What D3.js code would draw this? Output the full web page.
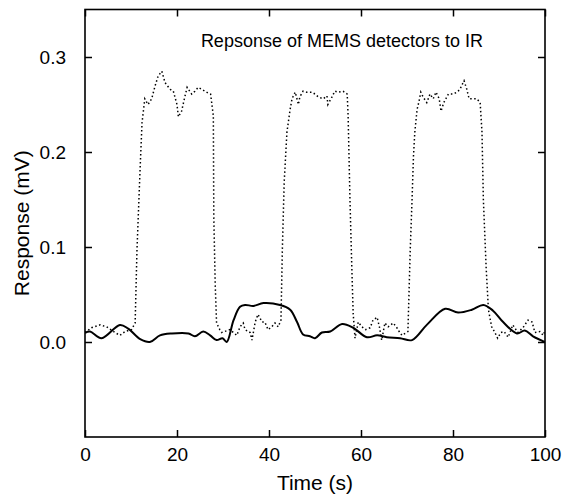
<!DOCTYPE html>
<html>
<head>
<meta charset="utf-8">
<script src="https://cdn.jsdelivr.net/npm/d3@7"></script>
<style>
  body { margin: 0; background: #fff; }
  svg { font-family: 'Liberation Sans', Arial, sans-serif; }
</style>
</head>
<body>
<div id="chart"><svg width="562" height="497"></svg></div>
<script>
// data: dotted trace (IR detector)
const irTime = [0, 1.4, 3.3, 4.7, 6.5, 7.6, 8.7, 10.1, 10.9, 11.3, 12.0, 12.4, 13.0, 13.7, 14.5, 15.2, 15.9, 16.7, 17.4, 18.5,
  19.2, 20.0, 20.3, 21.0, 21.7, 22.2, 23.2, 23.9, 24.6, 25.4, 26.1, 26.8, 27.3, 27.9, 28.0, 28.3, 28.6, 29.3, 29.7, 31.5,
  33.0, 33.7, 34.4, 34.8, 35.9, 36.3, 37.0, 37.6, 38.5, 39.1, 39.8, 40.6, 41.3, 42.0, 42.6, 42.9, 43.3, 43.9, 44.6, 45.0,
  45.7, 46.4, 46.7, 47.4, 48.2, 49.3, 50.0, 50.7, 51.8, 52.6, 52.8, 53.7, 54.3, 55.0, 56.1, 57.0, 57.2, 57.6, 58.0, 58.3,
  58.7, 59.4, 60.2, 61.0, 62.0, 62.6, 63.5, 64.0, 64.5, 65.2, 65.9, 67.0, 67.8, 68.3, 68.9, 70.2, 70.7, 71.1, 71.4, 71.7,
  72.2, 72.6, 73.0, 73.5, 74.3, 75.0, 75.7, 76.3, 77.0, 77.4, 78.0, 79.0, 80.0, 80.9, 81.5, 82.4, 83.0, 83.5, 84.6, 85.2,
  85.9, 86.3, 86.6, 87.2, 87.7, 88.4, 89.1, 89.7, 90.4, 91.1, 92.0, 93.0, 94.1, 95.2, 96.3, 97.2, 97.8, 98.9, 99.6, 100];
const irResp = [0.010, 0.015, 0.018, 0.016, 0.010, 0.007, 0.011, 0.013, 0.020, 0.097, 0.185, 0.231, 0.256, 0.250, 0.256, 0.269, 0.280, 0.285, 0.273, 0.266,
  0.264, 0.250, 0.237, 0.243, 0.258, 0.268, 0.261, 0.264, 0.268, 0.266, 0.264, 0.262, 0.261, 0.238, 0.132, 0.062, 0.020, 0.013, 0.010, 0.013,
  0.007, 0.016, 0.020, 0.013, 0.010, 0.002, 0.021, 0.029, 0.021, 0.021, 0.013, 0.016, 0.020, 0.016, 0.023, 0.097, 0.168, 0.221, 0.245, 0.256,
  0.263, 0.250, 0.258, 0.264, 0.263, 0.263, 0.261, 0.258, 0.256, 0.259, 0.250, 0.258, 0.264, 0.263, 0.264, 0.261, 0.238, 0.150, 0.079, 0.030,
  0.004, 0.021, 0.016, 0.013, 0.015, 0.023, 0.026, 0.016, 0.002, 0.020, 0.016, 0.020, 0.015, 0.011, 0.007, 0.011, 0.097, 0.150, 0.195, 0.221,
  0.245, 0.253, 0.263, 0.258, 0.252, 0.261, 0.256, 0.263, 0.256, 0.243, 0.252, 0.261, 0.261, 0.263, 0.266, 0.275, 0.266, 0.256, 0.256, 0.256,
  0.252, 0.221, 0.150, 0.079, 0.034, 0.016, 0.010, 0.004, 0.010, 0.011, 0.005, 0.018, 0.010, 0.015, 0.023, 0.021, 0.010, 0.011, 0.007, 0.012];

// data: solid trace (reference detector)
const refTime = [0, 1.1, 3.6, 7.6, 9.4, 12, 14.1, 16.3, 18.9, 22.5, 23.9, 25.7, 27.2, 28.6, 29.9, 30.8, 32.3, 33.7, 34.8, 36.6,
  38.8, 42.4, 44.6, 46.1, 47.4, 48.9, 50, 51.5, 53.3, 55.9, 58.3, 61.3, 63.5, 65.6, 68.5, 71.1, 74.3, 78.3, 81.1, 84.1,
  86.6, 88.7, 90.9, 93.9, 95.6, 97.4, 100];
const refResp = [0.0095, 0.011, 0.004, 0.018, 0.014, 0.003, 0.000, 0.007, 0.009, 0.009, 0.006, 0.011, 0.007, 0.002, 0.004, 0.000, 0.023, 0.037, 0.039, 0.038,
  0.041, 0.039, 0.034, 0.021, 0.008, 0.006, 0.004, 0.010, 0.011, 0.019, 0.015, 0.005, 0.007, 0.005, 0.004, 0.002, 0.018, 0.035, 0.031, 0.034,
  0.039, 0.033, 0.021, 0.009, 0.012, 0.006, 0.000];

// ticks
const xTicks = [0, 20, 40, 60, 80, 100];
const yTicks = [0.0, 0.1, 0.2, 0.3];

const svg = d3.select('#chart svg');
const plotLeft = 85, plotRight = 545, plotTop = 9.5, plotBottom = 437;

// scales
const scaleX = d3.scaleLinear().domain([0, 100]).range([plotLeft, plotRight]);
const scaleY = d3.scaleLinear().domain([-0.1, 0.35]).range([plotBottom, plotTop]);

// clip to frame
svg.append('clipPath').attr('id', 'clip')
  .append('rect')
  .attr('x', plotLeft).attr('y', plotTop)
  .attr('width', plotRight - plotLeft).attr('height', plotBottom - plotTop);

// axes: ticks inward on all sides, gnuplot style
const tickLen = 7;
svg.append('g')
  .attr('transform', `translate(0,${plotBottom})`)
  .call(d3.axisBottom(scaleX).tickValues(xTicks).tickSizeInner(-tickLen).tickSizeOuter(0).tickPadding(tickLen + 4).tickFormat(d3.format('d')));
svg.append('g')
  .attr('transform', `translate(0,${plotTop})`)
  .call(d3.axisTop(scaleX).tickValues(xTicks).tickSizeInner(-tickLen).tickSizeOuter(0).tickFormat(''));
svg.append('g')
  .attr('transform', `translate(${plotLeft},0)`)
  .call(d3.axisLeft(scaleY).tickValues(yTicks).tickSizeInner(-tickLen).tickSizeOuter(0).tickPadding(tickLen + 12).tickFormat(d3.format('.1f')));
svg.append('g')
  .attr('transform', `translate(${plotRight},0)`)
  .call(d3.axisRight(scaleY).tickValues(yTicks).tickSizeInner(-tickLen).tickSizeOuter(0).tickFormat(''));

svg.selectAll('.domain').remove();
svg.selectAll('.tick line').attr('stroke', '#000').attr('stroke-width', 1.5);
svg.selectAll('.tick text').style('font-size', '19px').style('font-family', "'Liberation Sans', Arial, sans-serif").attr('fill', '#000');

// frame
svg.append('rect')
  .attr('x', plotLeft).attr('y', plotTop)
  .attr('width', plotRight - plotLeft).attr('height', plotBottom - plotTop)
  .attr('fill', 'none')
  .attr('stroke', '#000')
  .attr('stroke-width', 1.6);

// lines
const irLine = d3.line()
  .x((d, i) => scaleX(irTime[i]))
  .y(d => scaleY(d));
svg.append('path')
  .datum(irResp)
  .attr('clip-path', 'url(#clip)')
  .attr('d', irLine)
  .attr('fill', 'none')
  .attr('stroke', '#000')
  .attr('stroke-width', 1.5)
  .attr('stroke-dasharray', '1.5,2.5');

const refLine = d3.line()
  .x((d, i) => scaleX(refTime[i]))
  .y(d => scaleY(d))
  .curve(d3.curveCatmullRom);
svg.append('path')
  .datum(refResp)
  .attr('clip-path', 'url(#clip)')
  .attr('d', refLine)
  .attr('fill', 'none')
  .attr('stroke', '#000')
  .attr('stroke-width', 2);

// labels
svg.append('text')
  .text('Repsonse of MEMS detectors to IR')
  .attr('x', 483)
  .attr('y', 47)
  .style('text-anchor', 'end')
  .style('font-size', '18px');

svg.append('text')
  .text('Time (s)')
  .attr('x', (plotLeft + plotRight) / 2)
  .attr('y', 490)
  .style('text-anchor', 'middle')
  .style('font-size', '21px');

svg.append('text')
  .text('Response (mV)')
  .attr('transform', `translate(29,${(plotTop + plotBottom) / 2}) rotate(-90)`)
  .style('text-anchor', 'middle')
  .style('font-size', '21px');
</script>
</body>
</html>
